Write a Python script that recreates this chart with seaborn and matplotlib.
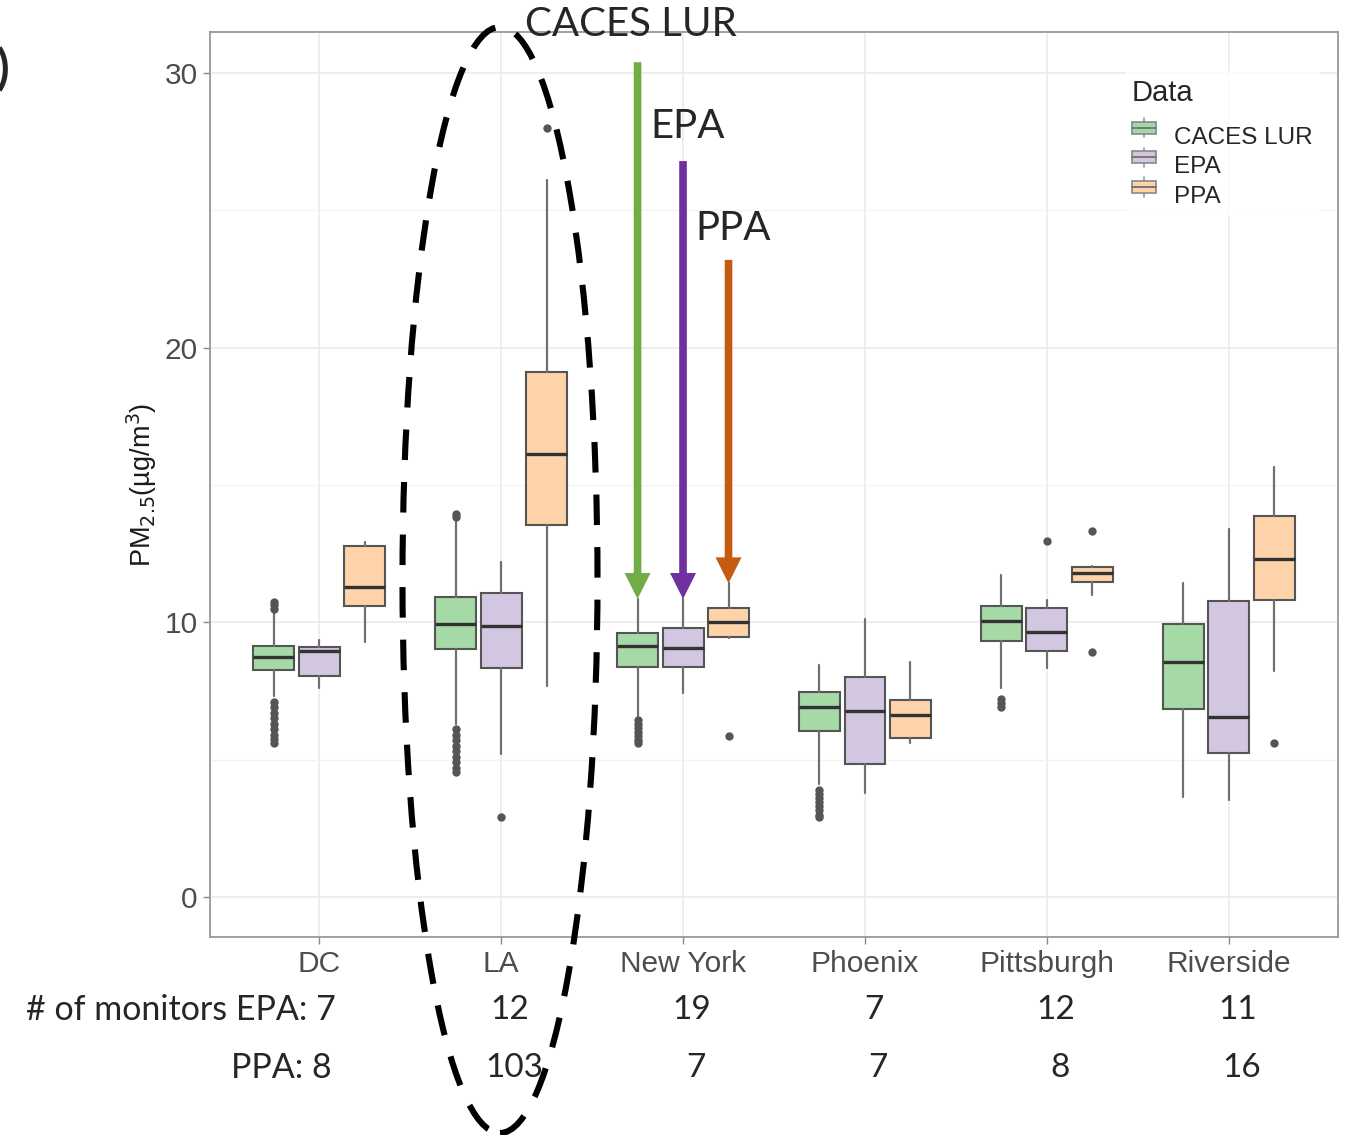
import matplotlib
matplotlib.use("Agg")
import matplotlib.pyplot as plt
import numpy as np
import seaborn as sns
from matplotlib.patches import Ellipse, Patch, Rectangle
from matplotlib.lines import Line2D
from matplotlib.legend_handler import HandlerBase

# ---- data ----
cities = ["DC", "LA", "New York", "Phoenix", "Pittsburgh", "Riverside"]
sources = ["CACES LUR", "EPA", "PPA"]

caces_lo = [7.3, 6.3, 6.6, 4.1, 7.6, 3.65]
caces_q1 = [8.27, 9.02, 8.39, 6.06, 9.33, 6.85]
caces_med = [8.73, 9.94, 9.12, 6.90, 10.06, 8.55]
caces_q3 = [9.14, 10.92, 9.60, 7.48, 10.60, 9.95]
caces_hi = [10.4, 13.7, 10.85, 8.45, 11.73, 11.42]
caces_out = [[10.5, 10.62, 10.75, 7.1, 6.9, 6.7, 6.5, 6.3, 6.1, 5.9, 5.75, 5.6],
             [13.85, 13.95, 6.1, 5.9, 5.7, 5.5, 5.3, 5.1, 4.9, 4.7, 4.55],
             [6.45, 6.3, 6.15, 6.0, 5.85, 5.7, 5.6],
             [3.9, 3.75, 3.6, 3.45, 3.3, 3.15, 3.0, 2.9],
             [7.2, 7.05, 6.9],
             []]

epa_lo = [7.6, 5.21, 7.42, 3.8, 8.33, 3.53]
epa_q1 = [8.03, 8.33, 8.36, 4.83, 8.96, 5.23]
epa_med = [8.96, 9.88, 9.06, 6.77, 9.63, 6.54]
epa_q3 = [9.09, 11.06, 9.81, 8.02, 10.51, 10.76]
epa_hi = [9.36, 12.19, 10.85, 10.13, 10.82, 13.39]
epa_out = [[], [2.92], [], [], [12.97], []]

ppa_lo = [9.3, 7.69, 9.42, 5.6, 11.0, 8.24]
ppa_q1 = [10.6, 13.55, 9.48, 5.78, 11.48, 10.82]
ppa_med = [11.27, 16.13, 10.03, 6.63, 11.81, 12.31]
ppa_q3 = [12.79, 19.1, 10.51, 7.18, 12.0, 13.88]
ppa_hi = [12.92, 26.1, 11.42, 8.57, 12.05, 15.65]
ppa_out = [[], [28.0], [5.87], [], [13.33, 8.93], [5.62]]

epa_monitors = [7, 12, 19, 7, 12, 11]
ppa_monitors = [8, 103, 7, 7, 8, 16]

# arrow starts (top of the annotation arrows over New York)
arrow_top = [30.4, 26.8, 23.2]

fill_colors = ["#a5d9a5", "#d2c6e1", "#fed3aa"]
arrow_colors = ["#70ad47", "#7030a0", "#c55a11"]

series = [
    (caces_lo, caces_q1, caces_med, caces_q3, caces_hi, caces_out),
    (epa_lo, epa_q1, epa_med, epa_q3, epa_hi, epa_out),
    (ppa_lo, ppa_q1, ppa_med, ppa_q3, ppa_hi, ppa_out),
]


class BoxKey(HandlerBase):
    # small boxplot glyph like ggplot's legend key
    def create_artists(self, legend, orig, xd, yd, width, height, fontsize, trans):
        fc = orig.get_facecolor()
        cx = xd + width / 2
        whisk = Line2D([cx, cx], [yd + 0.1 * height, yd + 0.9 * height],
                       color="#999999", lw=1.2, transform=trans)
        box = Rectangle((xd, yd + 0.25 * height), width, 0.5 * height, facecolor=fc,
                        edgecolor="#888888", lw=1.2, transform=trans)
        med = Line2D([xd, xd + width], [yd + height / 2] * 2, color="#777777",
                     lw=1.4, transform=trans)
        return [whisk, box, med]


sns.set_theme(style="whitegrid")
plt.rcParams["font.family"] = ["Liberation Sans", "DejaVu Sans"]
note_font = ["Lato", "DejaVu Sans"]

fig = plt.figure(figsize=(13.47, 11.35), dpi=100)
W, H = 1347, 1135
ax = fig.add_axes([210 / W, 1 - 937 / H, (1338 - 210) / W, (937 - 32) / H])
ax.set_facecolor("white")

offsets = [-0.25, 0.0, 0.25]
x = np.arange(len(cities))
for k, (lo, q1, med, q3, hi, out) in enumerate(series):
    stats = []
    for i in range(len(cities)):
        stats.append(dict(whislo=lo[i], q1=q1[i], med=med[i], q3=q3[i],
                          whishi=hi[i], fliers=out[i]))
    ax.bxp(stats, positions=x + offsets[k], widths=0.225, patch_artist=True,
           showcaps=False, manage_ticks=False,
           boxprops=dict(facecolor=fill_colors[k], edgecolor="#555555", linewidth=1.5),
           medianprops=dict(color="#333333", linewidth=2.4),
           whiskerprops=dict(color="#707070", linewidth=1.6),
           flierprops=dict(marker="o", markerfacecolor="#555555",
                           markeredgecolor="#555555", markersize=5))

ax.set_xlim(-0.6, 5.6)
ax.set_ylim(-1.46, 31.5)
ax.set_xticks(x)
ax.set_xticklabels(cities)
ax.set_yticks([0, 10, 20, 30])
ax.set_yticks([5, 15, 25], minor=True)
ax.grid(which="major", color="#ebebeb", linewidth=1.2)
ax.grid(which="minor", axis="y", color="#f2f2f2", linewidth=0.8)
ax.tick_params(axis="both", which="major", labelsize=21.5, labelcolor="#4d4d4d",
               color="#888888", length=5, width=1, left=True, bottom=True, pad=4)
ax.tick_params(axis="y", which="minor", length=0)
for sp in ax.spines.values():
    sp.set_color("#999999")
    sp.set_linewidth(1.3)
ax.set_axisbelow(True)
ax.set_ylabel("PM$_{2.5}$(µg/m$^3$)", fontsize=19.5, color="#1a1a1a", labelpad=4)
ax.set_xlabel("")

# legend
handles = [Patch(facecolor=fill_colors[k]) for k in range(3)]
leg = ax.legend(handles, sources, title="Data", loc="upper left",
                bbox_to_anchor=(0.8, 0.97), frameon=True, fontsize=17.5,
                title_fontsize=21, handlelength=1.0, handleheight=1.15,
                labelspacing=0.18, handletextpad=0.75, borderpad=0.3,
                handler_map={Patch: BoxKey()})
leg.get_frame().set_facecolor("white")
leg.get_frame().set_edgecolor("white")
leg._legend_box.align = "left"
leg._legend_box.sep = 12

# arrows pointing at the New York boxes
ny = cities.index("New York")
for k in range(3):
    ax.annotate("", xy=(ny + offsets[k], series[k][4][ny]),
                xytext=(ny + offsets[k], arrow_top[k]),
                arrowprops=dict(arrowstyle="simple,head_width=1.7,head_length=1.7,tail_width=0.5",
                                mutation_scale=11, color=arrow_colors[k], lw=0,
                                shrinkA=0, shrinkB=0))

# annotation labels
fig.text(525 / W, 1 - 25 / H, "CACES LUR", fontsize=29, family=note_font, va="center", ha="left")
fig.text(650 / W, 1 - 127 / H, "EPA", fontsize=29, family=note_font, va="center", ha="left")
fig.text(695 / W, 1 - 229 / H, "PPA", fontsize=29, family=note_font, va="center", ha="left")
fig.text(10 / W, 1 - 70 / H, "(b)", fontsize=34, family=note_font, weight="bold",
         va="center", ha="right")

# dashed ellipse around LA
ell = Ellipse((500 / W, 1 - 580 / H), 195 / W, 1106 / H, transform=fig.transFigure,
              fill=False, edgecolor="black", linewidth=4.4, linestyle=(0, (5, 3.6)),
              clip_on=False)
fig.add_artist(ell)

# monitor counts under the axis
trans = ax.get_xaxis_transform()
ax.text(0.09, -0.0807, f"# of monitors EPA: {epa_monitors[0]}", transform=trans,
        ha="right", va="center", fontsize=24.5, family=note_font, clip_on=False)
ax.text(0.07, -0.1448, f"PPA: {ppa_monitors[0]}", transform=trans,
        ha="right", va="center", fontsize=24.5, family=note_font, clip_on=False)
for i in range(1, len(cities)):
    ax.text(i + 0.05, -0.0807, str(epa_monitors[i]), transform=trans, ha="center",
            va="center", fontsize=24, family=note_font, clip_on=False)
    ax.text(i + 0.07, -0.1448, str(ppa_monitors[i]), transform=trans, ha="center",
            va="center", fontsize=24, family=note_font, clip_on=False)

fig.savefig("out.png", dpi=100)
plt.close(fig)
